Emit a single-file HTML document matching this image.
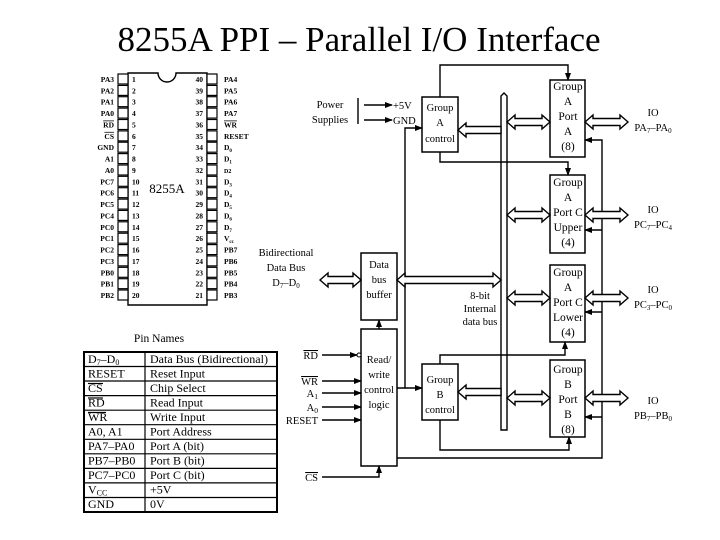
<!DOCTYPE html>
<html><head><meta charset="utf-8"><style>
html,body{margin:0;padding:0;background:#fff;}
svg{display:block;font-family:"Liberation Serif",serif;}
</style></head><body>
<svg width="720" height="540" viewBox="0 0 720 540" xmlns="http://www.w3.org/2000/svg">
<defs>
<marker id="ah" markerWidth="8" markerHeight="8" refX="7" refY="4" orient="auto" markerUnits="userSpaceOnUse"><path d="M0,1 L8,4 L0,7 z" fill="#000"/></marker>
</defs>
<text x="359" y="51" font-size="35" text-anchor="middle" fill="#000">8255A PPI – Parallel I/O Interface</text>

<g stroke="#000" fill="none" stroke-width="1.4">
<path d="M128,73 L158,73 A9,9 0 0 0 176,73 L207,73 L207,305 L128,305 Z"/>
</g>
<g stroke="#000" fill="#fff" stroke-width="1.2">
<rect x="118" y="74" width="10" height="10"/><rect x="118" y="85.4" width="10" height="10"/><rect x="118" y="96.7" width="10" height="10"/><rect x="118" y="108.1" width="10" height="10"/><rect x="118" y="119.5" width="10" height="10"/><rect x="118" y="130.9" width="10" height="10"/><rect x="118" y="142.2" width="10" height="10"/><rect x="118" y="153.6" width="10" height="10"/><rect x="118" y="165" width="10" height="10"/><rect x="118" y="176.3" width="10" height="10"/><rect x="118" y="187.7" width="10" height="10"/><rect x="118" y="199.1" width="10" height="10"/><rect x="118" y="210.4" width="10" height="10"/><rect x="118" y="221.8" width="10" height="10"/><rect x="118" y="233.2" width="10" height="10"/><rect x="118" y="244.6" width="10" height="10"/><rect x="118" y="255.9" width="10" height="10"/><rect x="118" y="267.3" width="10" height="10"/><rect x="118" y="278.7" width="10" height="10"/><rect x="118" y="290" width="10" height="10"/>
<rect x="207" y="74" width="10" height="10"/><rect x="207" y="85.4" width="10" height="10"/><rect x="207" y="96.7" width="10" height="10"/><rect x="207" y="108.1" width="10" height="10"/><rect x="207" y="119.5" width="10" height="10"/><rect x="207" y="130.9" width="10" height="10"/><rect x="207" y="142.2" width="10" height="10"/><rect x="207" y="153.6" width="10" height="10"/><rect x="207" y="165" width="10" height="10"/><rect x="207" y="176.3" width="10" height="10"/><rect x="207" y="187.7" width="10" height="10"/><rect x="207" y="199.1" width="10" height="10"/><rect x="207" y="210.4" width="10" height="10"/><rect x="207" y="221.8" width="10" height="10"/><rect x="207" y="233.2" width="10" height="10"/><rect x="207" y="244.6" width="10" height="10"/><rect x="207" y="255.9" width="10" height="10"/><rect x="207" y="267.3" width="10" height="10"/><rect x="207" y="278.7" width="10" height="10"/><rect x="207" y="290" width="10" height="10"/>
</g>
<g font-size="7.5" fill="#000" text-anchor="end" font-weight="bold">
<text x="114" y="82">PA3</text><text x="114" y="93.4">PA2</text><text x="114" y="104.7">PA1</text><text x="114" y="116.1">PA0</text><text x="114" y="127.5" text-decoration="overline">RD</text><text x="114" y="138.9" text-decoration="overline">CS</text><text x="114" y="150.2">GND</text><text x="114" y="161.6">A1</text><text x="114" y="173">A0</text><text x="114" y="184.3">PC7</text><text x="114" y="195.7">PC6</text><text x="114" y="207.1">PC5</text><text x="114" y="218.4">PC4</text><text x="114" y="229.8">PC0</text><text x="114" y="241.2">PC1</text><text x="114" y="252.6">PC2</text><text x="114" y="263.9">PC3</text><text x="114" y="275.3">PB0</text><text x="114" y="286.7">PB1</text><text x="114" y="298">PB2</text>
</g>
<g font-size="7.5" fill="#000" font-weight="bold">
<text x="132" y="82">1</text><text x="132" y="93.4">2</text><text x="132" y="104.7">3</text><text x="132" y="116.1">4</text><text x="132" y="127.5">5</text><text x="132" y="138.9">6</text><text x="132" y="150.2">7</text><text x="132" y="161.6">8</text><text x="132" y="173">9</text><text x="132" y="184.3">10</text><text x="132" y="195.7">11</text><text x="132" y="207.1">12</text><text x="132" y="218.4">13</text><text x="132" y="229.8">14</text><text x="132" y="241.2">15</text><text x="132" y="252.6">16</text><text x="132" y="263.9">17</text><text x="132" y="275.3">18</text><text x="132" y="286.7">19</text><text x="132" y="298">20</text>
<text x="224" y="82">PA4</text><text x="224" y="93.4">PA5</text><text x="224" y="104.7">PA6</text><text x="224" y="116.1">PA7</text><text x="224" y="127.5" text-decoration="overline">WR</text><text x="224" y="138.9">RESET</text><text x="224" y="150.2">D<tspan font-size="5" dy="2">0</tspan></text><text x="224" y="161.6">D<tspan font-size="5" dy="2">1</tspan></text><text x="224" y="173" font-size="6">D2</text><text x="224" y="184.3">D<tspan font-size="5" dy="2">3</tspan></text><text x="224" y="195.7">D<tspan font-size="5" dy="2">4</tspan></text><text x="224" y="207.1">D<tspan font-size="5" dy="2">5</tspan></text><text x="224" y="218.4">D<tspan font-size="5" dy="2">6</tspan></text><text x="224" y="229.8">D<tspan font-size="5" dy="2">7</tspan></text><text x="224" y="241.2">V<tspan font-size="5" dy="2">cc</tspan></text><text x="224" y="252.6">PB7</text><text x="224" y="263.9">PB6</text><text x="224" y="275.3">PB5</text><text x="224" y="286.7">PB4</text><text x="224" y="298">PB3</text>
</g>
<g font-size="7.5" fill="#000" text-anchor="end" font-weight="bold">
<text x="203" y="82">40</text><text x="203" y="93.4">39</text><text x="203" y="104.7">38</text><text x="203" y="116.1">37</text><text x="203" y="127.5">36</text><text x="203" y="138.9">35</text><text x="203" y="150.2">34</text><text x="203" y="161.6">33</text><text x="203" y="173">32</text><text x="203" y="184.3">31</text><text x="203" y="195.7">30</text><text x="203" y="207.1">29</text><text x="203" y="218.4">28</text><text x="203" y="229.8">27</text><text x="203" y="241.2">26</text><text x="203" y="252.6">25</text><text x="203" y="263.9">24</text><text x="203" y="275.3">23</text><text x="203" y="286.7">22</text><text x="203" y="298">21</text>
</g>
<text x="167" y="193" font-size="13" text-anchor="middle">8255A</text>

<text x="159" y="342" font-size="11.5" text-anchor="middle">Pin Names</text>
<g stroke="#000" fill="none" stroke-width="1.2">
<rect x="84" y="352" width="193" height="160" stroke-width="2"/>
<line x1="145" y1="352" x2="145" y2="512"/>
<line x1="84" y1="366.5" x2="277" y2="366.5"/><line x1="84" y1="381" x2="277" y2="381"/><line x1="84" y1="395.6" x2="277" y2="395.6"/><line x1="84" y1="410.2" x2="277" y2="410.2"/><line x1="84" y1="424.7" x2="277" y2="424.7"/><line x1="84" y1="439.3" x2="277" y2="439.3"/><line x1="84" y1="453.8" x2="277" y2="453.8"/><line x1="84" y1="468.4" x2="277" y2="468.4"/><line x1="84" y1="482.9" x2="277" y2="482.9"/><line x1="84" y1="497.5" x2="277" y2="497.5"/>
<line x1="88" y1="383.5" x2="103" y2="383.5"/>
<line x1="88" y1="398" x2="103" y2="398"/>
<line x1="88" y1="412.5" x2="106" y2="412.5"/>
</g>
<g font-size="12" fill="#000">
<text x="88" y="363">D<tspan font-size="8" dy="2">7</tspan><tspan dy="-2">–D</tspan><tspan font-size="8" dy="2">0</tspan></text>
<text x="88" y="377.5">RESET</text>
<text x="88" y="392">CS</text>
<text x="88" y="406.5">RD</text>
<text x="88" y="421">WR</text>
<text x="88" y="435.5">A0, A1</text>
<text x="88" y="450">PA7–PA0</text>
<text x="88" y="464.5">PB7–PB0</text>
<text x="88" y="479">PC7–PC0</text>
<text x="88" y="493.5">V<tspan font-size="8" dy="2">CC</tspan></text>
<text x="88" y="508">GND</text>
<text x="150" y="363">Data Bus (Bidirectional)</text>
<text x="150" y="377.5">Reset Input</text>
<text x="150" y="392">Chip Select</text>
<text x="150" y="406.5">Read Input</text>
<text x="150" y="421">Write Input</text>
<text x="150" y="435.5">Port Address</text>
<text x="150" y="450">Port A (bit)</text>
<text x="150" y="464.5">Port B (bit)</text>
<text x="150" y="479">Port C (bit)</text>
<text x="150" y="493.5">+5V</text>
<text x="150" y="508">0V</text>
</g>

<g stroke="#000" fill="#fff" stroke-width="1.5">
<rect x="422" y="97" width="36" height="55"/>
<rect x="550" y="80" width="35" height="77"/>
<rect x="550" y="175" width="35" height="78"/>
<rect x="550" y="265" width="35" height="77"/>
<rect x="550" y="360" width="35" height="77"/>
<rect x="422" y="364" width="36" height="56"/>
<rect x="361" y="329" width="36" height="137"/>
<rect x="361" y="253" width="36" height="67"/>
</g>
<path d="M501,430 L501,96 L504,93 L507,96 L507,430 Z" stroke="#000" fill="#fff" stroke-width="1.4"/>

<g stroke="#000" fill="none" stroke-width="1.4">
<polyline points="440,97 440,65 568,65 568,80" marker-end="url(#ah)"/>
<polyline points="440,152 440,162 568,162 568,175" marker-end="url(#ah)"/>
<polyline points="440,364 440,355 565,355 565,342" marker-end="url(#ah)"/>
<polyline points="440,420 440,450 569,450 569,437" marker-end="url(#ah)"/>
<polyline points="397,458 602,458 602,140 585,140" marker-end="url(#ah)"/>
<line x1="602" y1="230" x2="585" y2="230" marker-end="url(#ah)"/>
<line x1="602" y1="312" x2="585" y2="312" marker-end="url(#ah)"/>
<line x1="602" y1="417" x2="585" y2="417" marker-end="url(#ah)"/>
<polyline points="397,388 405,388 405,128 422,128" marker-end="url(#ah)"/>
<line x1="405" y1="388" x2="422" y2="388" marker-end="url(#ah)"/>
<line x1="379" y1="329" x2="379" y2="320" marker-end="url(#ah)"/>
<polyline points="322,477 379,477 379,466" marker-end="url(#ah)"/>
<line x1="322" y1="355" x2="357" y2="355" marker-end="url(#ah)"/>
<line x1="322" y1="381" x2="361" y2="381" marker-end="url(#ah)"/>
<line x1="322" y1="393" x2="361" y2="393" marker-end="url(#ah)"/>
<line x1="322" y1="407" x2="361" y2="407" marker-end="url(#ah)"/>
<line x1="322" y1="420" x2="361" y2="420" marker-end="url(#ah)"/>
<line x1="364" y1="105" x2="392" y2="105" marker-end="url(#ah)"/>
<line x1="364" y1="120" x2="392" y2="120" marker-end="url(#ah)"/>
<line x1="358" y1="98" x2="358" y2="124"/>
</g>
<circle cx="359" cy="355" r="2" fill="#fff" stroke="#000"/>

<g stroke="#000" fill="#fff" stroke-width="1.4">
<polygon points="507,122 515,115 515,118.5 542,118.5 542,115 550,122 542,129 542,125.5 515,125.5 515,129"/>
<polygon points="507,215 515,208 515,211.5 542,211.5 542,208 550,215 542,222 542,218.5 515,218.5 515,222"/>
<polygon points="507,298 515,291 515,294.5 542,294.5 542,291 550,298 542,305 542,301.5 515,301.5 515,305"/>
<polygon points="507,398 515,391 515,394.5 542,394.5 542,391 550,398 542,405 542,401.5 515,401.5 515,405"/>
<polygon points="585,122 593,115 593,118.5 620,118.5 620,115 628,122 620,129 620,125.5 593,125.5 593,129"/>
<polygon points="585,215 593,208 593,211.5 620,211.5 620,208 628,215 620,222 620,218.5 593,218.5 593,222"/>
<polygon points="585,298 593,291 593,294.5 620,294.5 620,291 628,298 620,305 620,301.5 593,301.5 593,305"/>
<polygon points="585,398 593,391 593,394.5 620,394.5 620,391 628,398 620,405 620,401.5 593,401.5 593,405"/>
<polygon points="320,280 328,273 328,276.5 353,276.5 353,273 361,280 353,287 353,283.5 328,283.5 328,287"/>
<polygon points="397,280 405,273 405,276.5 493,276.5 493,273 501,280 493,287 493,283.5 405,283.5 405,287"/>
<polygon points="458,130 466,123 466,126.5 501,126.5 501,133.5 466,133.5 466,137"/>
<polygon points="458,392 466,385 466,388.5 501,388.5 501,395.5 466,395.5 466,399"/>
</g>

<g font-size="11.5" fill="#000" text-anchor="middle">
<text x="568" y="90">Group</text><text x="568" y="105">A</text><text x="568" y="120">Port</text><text x="568" y="135">A</text><text x="568" y="150">(8)</text>
<text x="568" y="186">Group</text><text x="568" y="201">A</text><text x="568" y="216">Port C</text><text x="568" y="231">Upper</text><text x="568" y="246">(4)</text>
<text x="568" y="276">Group</text><text x="568" y="291">A</text><text x="568" y="306">Port C</text><text x="568" y="321">Lower</text><text x="568" y="336">(4)</text>
<text x="568" y="373">Group</text><text x="568" y="388">B</text><text x="568" y="403">Port</text><text x="568" y="418">B</text><text x="568" y="433">(8)</text>
</g>
<g font-size="10.5" fill="#000" text-anchor="middle">
<text x="440" y="111">Group</text><text x="440" y="126">A</text><text x="440" y="142">control</text>
<text x="440" y="383">Group</text><text x="440" y="398">B</text><text x="440" y="413">control</text>
<text x="379" y="268">Data</text><text x="379" y="283">bus</text><text x="379" y="298">buffer</text>
<text x="379" y="363">Read/</text><text x="379" y="378">write</text><text x="379" y="393">control</text><text x="379" y="408">logic</text>
<text x="330" y="108">Power</text><text x="330" y="123">Supplies</text>
<text x="286" y="256">Bidirectional</text><text x="286" y="271">Data Bus</text><text x="286" y="286">D<tspan font-size="7" dy="2">7</tspan><tspan dy="-2">–D</tspan><tspan font-size="7" dy="2">0</tspan></text>
<text x="480" y="299">8-bit</text><text x="480" y="312">Internal</text><text x="480" y="325">data bus</text>
<text x="653" y="116">IO</text><text x="653" y="131">PA<tspan font-size="7" dy="2">7</tspan><tspan dy="-2">–PA</tspan><tspan font-size="7" dy="2">0</tspan></text>
<text x="653" y="213">IO</text><text x="653" y="228">PC<tspan font-size="7" dy="2">7</tspan><tspan dy="-2">–PC</tspan><tspan font-size="7" dy="2">4</tspan></text>
<text x="653" y="293">IO</text><text x="653" y="308">PC<tspan font-size="7" dy="2">3</tspan><tspan dy="-2">–PC</tspan><tspan font-size="7" dy="2">0</tspan></text>
<text x="653" y="404">IO</text><text x="653" y="419">PB<tspan font-size="7" dy="2">7</tspan><tspan dy="-2">–PB</tspan><tspan font-size="7" dy="2">0</tspan></text>
</g>
<g font-size="10.5" fill="#000">
<text x="393" y="109">+5V</text><text x="393" y="124">GND</text>
</g>
<g font-size="10.5" fill="#000" text-anchor="end">
<text x="318" y="359" text-decoration="overline">RD</text>
<text x="318" y="385" text-decoration="overline">WR</text>
<text x="318" y="397">A<tspan font-size="7.5" dy="2">1</tspan></text>
<text x="318" y="411">A<tspan font-size="7.5" dy="2">0</tspan></text>
<text x="318" y="424">RESET</text>
<text x="318" y="481" text-decoration="overline">CS</text>
</g>
</svg>
</body></html>
